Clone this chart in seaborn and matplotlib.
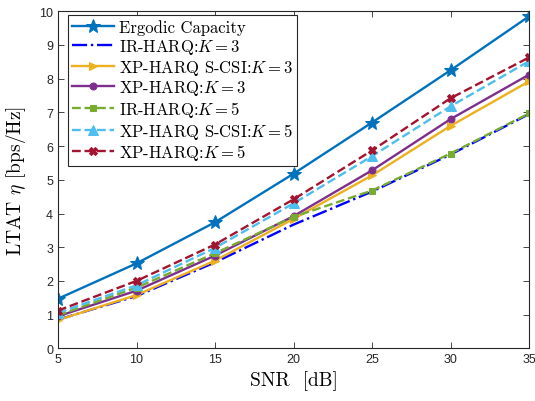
import matplotlib
matplotlib.use("Agg")
import matplotlib.pyplot as plt
import seaborn as sns

snr = [5, 10, 15, 20, 25, 30, 35]

ergodic = [1.47, 2.52, 3.74, 5.18, 6.70, 8.25, 9.85]
ir_k3 = [0.85, 1.55, 2.55, 3.67, 4.65, 5.75, 6.95]
xp_scsi_k3 = [0.84, 1.58, 2.60, 3.84, 5.13, 6.60, 7.92]
xp_k3 = [0.95, 1.71, 2.75, 3.92, 5.28, 6.80, 8.12]
ir_k5 = [0.98, 1.80, 2.82, 3.90, 4.68, 5.78, 6.97]
xp_scsi_k5 = [1.05, 1.87, 2.98, 4.30, 5.70, 7.18, 8.52]
xp_k5 = [1.12, 2.00, 3.08, 4.42, 5.87, 7.42, 8.63]

labels = ["Ergodic Capacity", "IR-HARQ:$K=3$", "XP-HARQ S-CSI:$K=3$", "XP-HARQ:$K=3$",
          "IR-HARQ:$K=5$", "XP-HARQ S-CSI:$K=5$", "XP-HARQ:$K=5$"]

plt.rcParams['mathtext.fontset'] = 'cm'

fig, ax = plt.subplots(figsize=(5.35, 4.02), dpi=100)
fig.subplots_adjust(left=58 / 535, right=529 / 535, bottom=1 - 349.3 / 402, top=1 - 12.3 / 402)

# (values, color, linestyle, marker, markersize)
series = [
    (ergodic, '#0072BD', '-', '*', 10),
    (ir_k3, '#0000FF', '-.', None, 0),
    (xp_scsi_k3, '#EDB120', '-', '>', 6),
    (xp_k3, '#7E2F8E', '-', 'o', 5),
    (ir_k5, '#77AC30', '--', 's', 5),
    (xp_scsi_k5, '#4DBEEE', '--', '^', 7),
    (xp_k5, '#A2142F', '--', 'X', 6),
]

for (vals, color, ls, mk, ms), lab in zip(series, labels):
    sns.lineplot(x=snr, y=vals, ax=ax, color=color, linestyle=ls, marker=mk,
                 markersize=ms, markeredgecolor=color, linewidth=1.7, label=lab)

ax.set_xlim(5, 35)
ax.set_ylim(0, 10)
ax.set_xticks(snr)
ax.set_yticks(range(0, 11))
ax.tick_params(direction='in', top=True, right=True, length=4, width=0.6,
               labelsize=9, colors='#262626')
for t in ax.get_xticklabels() + ax.get_yticklabels():
    t.set_fontfamily('Liberation Sans')
for s in ax.spines.values():
    s.set_linewidth(0.8)
    s.set_color('#262626')

ax.set_xlabel("SNR  [dB]", fontfamily='cmr10', fontsize=14, labelpad=4)
ax.set_ylabel(r"LTAT $\eta$ [bps/Hz]", fontfamily='cmr10', fontsize=14, labelpad=8)

leg = ax.legend(loc='upper left', bbox_to_anchor=(0.021, 0.988), borderaxespad=0,
                prop={'family': 'cmr10', 'size': 12}, frameon=True,
                fancybox=False, edgecolor='#262626', framealpha=1, handlelength=2.5,
                handletextpad=0.3, labelspacing=0.1, borderpad=0.25)
leg.get_frame().set_linewidth(0.8)

fig.savefig("out.png", dpi=100)
